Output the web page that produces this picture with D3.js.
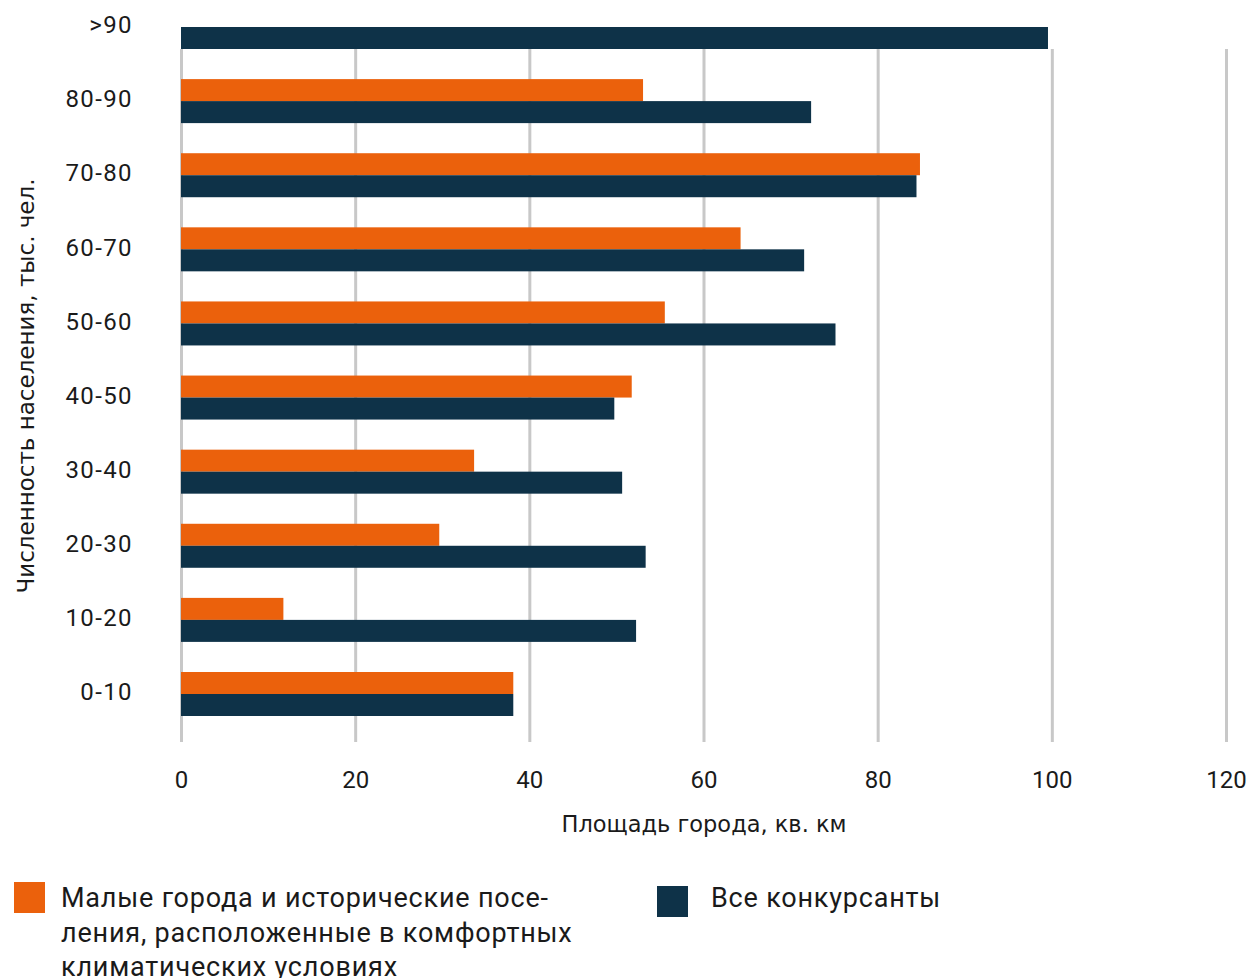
<!DOCTYPE html>
<html><head><meta charset="utf-8">
<script src="https://cdn.jsdelivr.net/npm/d3@7"></script>
<style>body{margin:0;background:#fff}svg{display:block}</style>
</head><body>
<svg id="c" width="1255" height="978"></svg>
<script>
const categories = ["0-10","10-20","20-30","30-40","40-50","50-60","60-70","70-80","80-90",">90"];
const smallTowns = [38.1, 11.7, 29.6, 33.6, 51.7, 55.5, 64.2, 84.8, 53.0, null];
const allEntrants = [38.1, 52.2, 53.3, 50.6, 49.7, 75.1, 71.5, 84.4, 72.3, 99.5];
const xTicks = [0, 20, 40, 60, 80, 100, 120];
const seriesNames = ["Малые города и исторические посе-|ления, расположенные в комфортных|климатических условиях", "Все конкурсанты"];
const xTitle = "Площадь города, кв. км";
const yTitle = "Численность населения, тыс. чел.";

const colors = ["#eb610c", "#0e3248"];
const svg = d3.select("#c");
const x = d3.scaleLinear().domain([0,120]).range([181.5,1226.5]);
const y = d3.scalePoint().domain(categories).range([694,27]);
const sub = d3.scaleBand().domain([0,1]).range([-22,22]);

// gridlines
svg.append("g").selectAll("line").data(xTicks).join("line")
  .attr("x1",d=>x(d)).attr("x2",d=>x(d)).attr("y1",49).attr("y2",742)
  .attr("stroke","#c8c8c8").attr("stroke-width",3);

const series = [smallTowns, allEntrants];
series.forEach((vals,si)=>{
  svg.append("g").selectAll("rect").data(categories.map((c,i)=>({c,v:vals[i]})).filter(d=>d.v!=null)).join("rect")
    .attr("x",x(0)-0.5).attr("y",d=>y(d.c)+sub(si))
    .attr("width",d=>x(d.v)-x(0)+0.5).attr("height",sub.bandwidth())
    .attr("fill",colors[si]);
});

const tickFont = "Roboto, 'Liberation Sans', sans-serif";
// x tick labels
svg.append("g").selectAll("text").data(xTicks).join("text")
  .attr("x",d=>x(d)).attr("y",788).attr("text-anchor","middle")
  .attr("font-family",tickFont).attr("font-size",24).attr("fill","#1a1a1a")
  .text(d=>d);
// y tick labels
svg.append("g").selectAll("text").data(categories).join("text")
  .attr("x",133).attr("y",d=>y(d)).attr("dy","0.26em").attr("text-anchor","end")
  .attr("font-family",tickFont).attr("font-size",24).attr("letter-spacing",1.4).attr("fill","#1a1a1a")
  .text(d=>d);

// axis titles
svg.append("text").attr("x",704).attr("y",832).attr("text-anchor","middle")
  .attr("font-family","'DejaVu Sans', sans-serif").attr("font-size",22.5).attr("fill","#1a1a1a")
  .text(xTitle);
svg.append("text").attr("transform","translate(34,386) rotate(-90)").attr("text-anchor","middle")
  .attr("font-family","'DejaVu Sans', sans-serif").attr("font-size",23).attr("fill","#1a1a1a")
  .text(yTitle);

// legend
const leg = [{x:14,y:882,tx:61,ty:907},{x:657,y:886,tx:711,ty:907}];
leg.forEach((l,i)=>{
  svg.append("rect").attr("x",l.x).attr("y",l.y).attr("width",31).attr("height",31).attr("fill",colors[i]);
  const t = svg.append("text").attr("x",l.tx).attr("y",l.ty)
    .attr("font-family",tickFont).attr("font-size",27).attr("letter-spacing",0.8).attr("fill","#1a1a1a");
  seriesNames[i].split("|").forEach((line,j)=>{
    t.append("tspan").attr("x",l.tx).attr("y",l.ty+j*34.5).text(line);
  });
});
</script>
</body></html>
